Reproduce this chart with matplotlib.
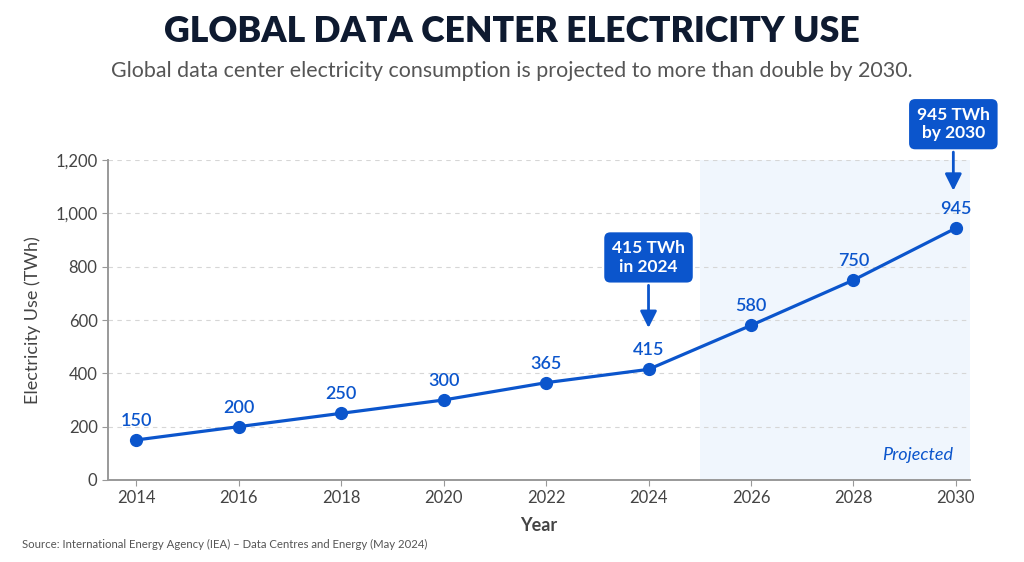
import matplotlib as mpl
mpl.use('Agg')
import matplotlib.pyplot as plt
from matplotlib.patches import Rectangle

# Data
years = [2014, 2016, 2018, 2020, 2022, 2024, 2026, 2028, 2030]
twh = [150, 200, 250, 300, 365, 415, 580, 750, 945]
y_ticks = [0, 200, 400, 600, 800, 1000, 1200]
projected_from = 2025.0

BLUE = '#0b55cc'
NAVY = '#0e1a30'
GRAY = '#444444'

plt.rcParams['font.family'] = ['Lato', 'DejaVu Sans']

fig = plt.figure(figsize=(10.24, 5.62), dpi=100)
ax = fig.add_axes([0.1055, 0.146, 0.8415, 0.569])

ax.set_xlim(2013.45, 2030.27)
ax.set_ylim(0, 1200)

# projected band
ax.add_patch(Rectangle((projected_from, 0), 2030.27 - projected_from, 1200,
                       facecolor='#f0f6fd', edgecolor='none', zorder=0))

ax.plot(years, twh, color=BLUE, lw=2.3, marker='o', ms=8.5, zorder=3)
for x, y in zip(years, twh):
    ax.annotate(str(y), (x, y), xytext=(0, 8), textcoords='offset points',
                ha='center', va='bottom', color=BLUE, fontsize=13,
                fontweight='semibold')

ax.set_yticks(y_ticks)
ax.set_yticklabels(['{:,}'.format(v) for v in y_ticks])
ax.set_xticks(years)
ax.grid(axis='y', color='#d6d6d6', linestyle=(0, (4, 4)), lw=0.8)
ax.set_axisbelow(True)
for s in ['top', 'right']:
    ax.spines[s].set_visible(False)
for s in ['left', 'bottom']:
    ax.spines[s].set_color('#999999')
    ax.spines[s].set_linewidth(1.4)
ax.tick_params(colors='#999999', labelcolor=GRAY, labelsize=12, length=4)
ax.set_xlabel('Year', fontsize=13, color=GRAY, fontweight='bold', labelpad=8)
ax.set_ylabel('Electricity Use (TWh)', fontsize=13, color=GRAY, labelpad=10)

# callouts
box = dict(boxstyle='round,pad=0.45,rounding_size=0.35', fc=BLUE, ec='none')
arrow = dict(arrowstyle='-|>,head_width=0.4,head_length=0.8', color=BLUE, lw=2)
ax.annotate('415 TWh\nin 2024', xy=(2024, 560), xytext=(2024, 835),
            ha='center', va='center', color='white', fontsize=12.5,
            fontweight='bold', bbox=box, arrowprops=arrow, linespacing=1.2)
ax.annotate('945 TWh\nby 2030', xy=(2029.95, 1075), xytext=(2029.95, 1335),
            ha='center', va='center', color='white', fontsize=12.5,
            fontweight='bold', bbox=box, arrowprops=arrow, linespacing=1.2,
            annotation_clip=False)

ax.text(2029.95, 95, 'Projected', color=BLUE, fontsize=13, style='italic',
        ha='right', va='center')

fig.text(0.5, 0.944, 'GLOBAL DATA CENTER ELECTRICITY USE', ha='center',
         va='center', fontsize=25.7, fontweight='heavy', color=NAVY)
fig.text(0.5, 0.873, 'Global data center electricity consumption is projected '
         'to more than double by 2030.', ha='center', va='center',
         fontsize=15.4, color='#555555')
fig.text(0.021, 0.032, 'Source: International Energy Agency (IEA) \u2013 Data '
         'Centres and Energy (May 2024)', ha='left', va='center',
         fontsize=8.2, color='#555555')

fig.savefig('out.png', dpi=100, facecolor='white')
